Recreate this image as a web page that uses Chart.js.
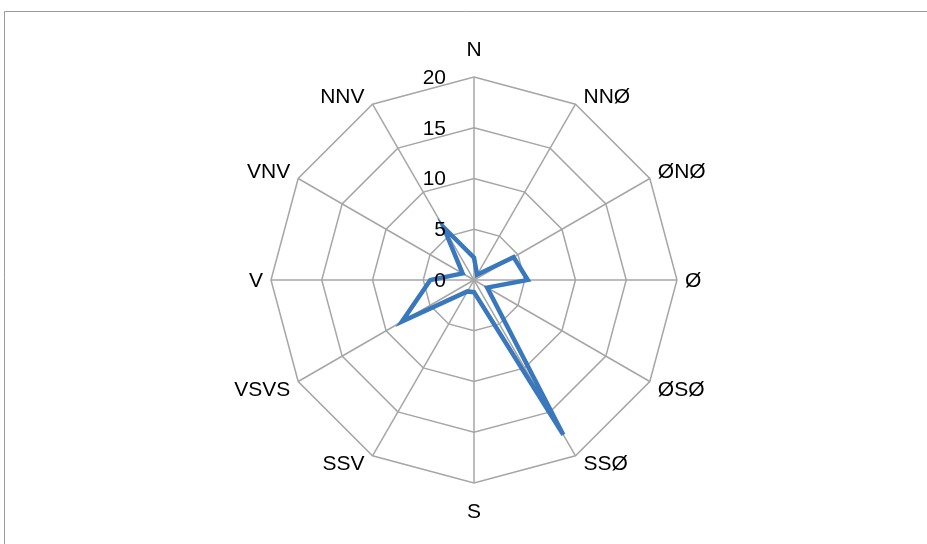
<!DOCTYPE html>
<html>
<head>
<meta charset="utf-8">
<script src="https://cdn.jsdelivr.net/npm/chart.js@4/dist/chart.umd.min.js"></script>
<style>
  html, body { margin: 0; padding: 0; background: #ffffff; }
  canvas { display: block; }
</style>
</head>
<body>
<canvas id="c" width="927" height="544"></canvas>
<script>
// Categories (wind directions)
const directions = ['N', 'NNØ', 'ØNØ', 'Ø', 'ØSØ', 'SSØ', 'S', 'SSV', 'VSVS', 'V', 'VNV', 'NNV'];
// Series values
const windValues = [2.2, 0.6, 4.5, 5.3, 1.5, 17.6, 1.2, 1.3, 8.2, 4.3, 1.3, 6.0];
// Radial tick values
const tickValues = [0, 5, 10, 15, 20];

const FONT_FAMILY = "'Liberation Sans', Arial, sans-serif";
const FONT_SIZE = 21;

// Frame around the chart (left and top edges visible)
const framePlugin = {
  id: 'frame',
  beforeDraw(chart) {
    const ctx = chart.ctx;
    ctx.save();
    ctx.strokeStyle = '#9a9a9a';
    ctx.lineWidth = 1;
    ctx.beginPath();
    ctx.moveTo(4.5, chart.height);
    ctx.lineTo(4.5, 11.5);
    ctx.lineTo(chart.width, 11.5);
    ctx.stroke();
    ctx.restore();
  }
};

// Tick labels left of the vertical axis and category labels just outside the outer ring
const labelPlugin = {
  id: 'labels',
  afterDraw(chart) {
    const scale = chart.scales.r;
    const ctx = chart.ctx;
    ctx.save();
    ctx.font = FONT_SIZE + 'px ' + FONT_FAMILY;
    ctx.fillStyle = '#000000';
    ctx.textBaseline = 'middle';
    // ticks
    ctx.textAlign = 'right';
    scale.ticks.forEach(t => {
      const d = scale.getDistanceFromCenterForValue(t.value);
      ctx.fillText(String(t.value), scale.xCenter - 28, scale.yCenter - d + 1);
    });
    // category labels
    ctx.textAlign = 'center';
    const R = scale.drawingArea;
    directions.forEach((lab, i) => {
      const p = scale.getPointPosition(i, R);
      const ang = scale.getIndexAngle(i);
      const s = Math.sin(ang), c = Math.cos(ang);
      const w = ctx.measureText(lab).width;
      let dx = 0, dy = 0;
      if (Math.abs(s) > 0.01) {
        dx = Math.sign(s) * (w / 2 + 8);
        dy = Math.abs(c) > 0.01 ? -Math.sign(c) * 7.5 : 0;
      } else {
        dy = -Math.sign(c) * 28;
      }
      ctx.fillText(lab, p.x + dx, p.y + dy + 1);
    });
    ctx.restore();
  }
};

new Chart(document.getElementById('c'), {
  type: 'radar',
  data: {
    labels: directions,
    datasets: [{
      label: 'Vind',
      data: windValues,
      borderColor: '#3a78be',
      borderWidth: 4.5,
      borderJoinStyle: 'miter',
      backgroundColor: 'rgba(0,0,0,0)',
      fill: false,
      pointRadius: 0,
      pointHoverRadius: 0,
      tension: 0
    }]
  },
  options: {
    responsive: false,
    animation: false,
    layout: { padding: { top: 77, bottom: 61, left: 271, right: 250 } },
    plugins: {
      legend: { display: false },
      tooltip: { enabled: false }
    },
    scales: {
      r: {
        min: tickValues[0],
        max: tickValues[tickValues.length - 1],
        beginAtZero: true,
        afterBuildTicks(scale) {
          scale.ticks = tickValues.map(v => ({ value: v }));
        },
        ticks: { display: false, stepSize: 5 },
        grid: { color: '#a6a6a6', lineWidth: 1.5, circular: false },
        angleLines: { color: '#a6a6a6', lineWidth: 1.5 },
        pointLabels: { display: false }
      }
    }
  },
  plugins: [framePlugin, labelPlugin]
});
</script>
</body>
</html>
